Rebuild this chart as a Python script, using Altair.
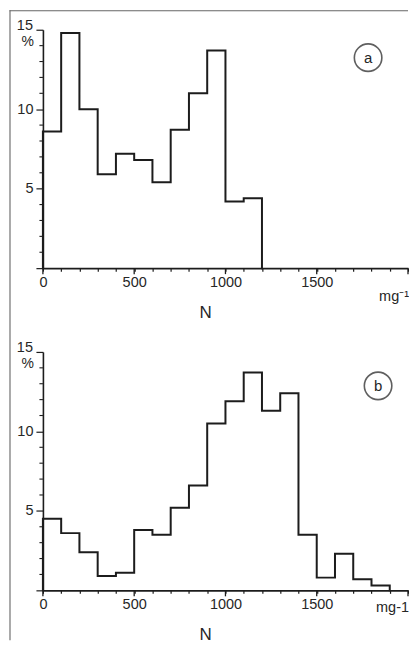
import altair as alt
import pandas as pd

# ---- data ----
bin_width = 100
x_max = 2000
y_max = 15
top_values = [8.6, 14.8, 10.0, 5.9, 7.2, 6.8, 5.4, 8.7, 11.0, 13.7, 4.2, 4.4]
bottom_values = [4.5, 3.6, 2.4, 0.9, 1.1, 3.8, 3.5, 5.2, 6.6, 10.5, 11.9, 13.7,
                 11.3, 12.4, 3.5, 0.8, 2.3, 0.7, 0.3]
x_tick_values = list(range(0, 2001, 100))
x_major_ticks = [0, 500, 1000, 1500, 2000]
y_axis_values = [0, 5, 10, 15]
y_minor_ticks = [1, 2, 3, 4, 6, 7, 8, 9, 11, 12, 13, 14]

W, H = 366, 239
INK = "#1c1c1c"
TXT = "#262626"
FONT = "Liberation Sans"
FS = 14.5


def step_frame(values):
    rows = [{"i": 0, "x": 0, "y": 0}]
    for k, v in enumerate(values):
        x0 = k * bin_width
        rows.append({"i": len(rows), "x": x0, "y": v})
        rows.append({"i": len(rows), "x": x0 + bin_width, "y": v})
    rows.append({"i": len(rows), "x": len(values) * bin_width, "y": 0})
    return pd.DataFrame(rows)


xenc = alt.X(
    "x:Q",
    scale=alt.Scale(domain=[0, x_max], nice=False, zero=False),
    axis=alt.Axis(
        values=x_tick_values, format="d", title=None, grid=False,
        labelExpr="datum.value % 500 == 0 && datum.value < 2000 ? datum.label : ''",
        labelOverlap=False, labelFlush=False, labelBound=False,
        tickSize=3, tickWidth=1.2, tickColor=INK,
        domainColor=INK, domainWidth=1.6,
        labelFont=FONT, labelFontSize=FS, labelColor=TXT, labelPadding=4,
    ),
)
yenc = alt.Y(
    "y:Q",
    scale=alt.Scale(domain=[0, y_max], nice=False),
    axis=alt.Axis(
        values=y_axis_values, title=None, grid=False,
        labelExpr="datum.value == 5 || datum.value == 10 ? datum.label : ''",
        labelOverlap=False, labelFlush=False, labelBound=False,
        tickSize=7, tickWidth=1.2, tickColor=INK,
        domainColor=INK, domainWidth=1.6,
        labelFont=FONT, labelFontSize=FS, labelColor=TXT, labelPadding=3,
    ),
)

one = pd.DataFrame({"a": [0]})


def text_layer(txt, x, y, align="center", size=FS):
    return alt.Chart(one).mark_text(
        text=txt, font=FONT, fontSize=size, color=TXT, align=align, baseline="middle"
    ).encode(x=alt.value(x), y=alt.value(y))


def panel(values, letter, unit_text, unit_dy, cx, cy, frame=False):
    line = alt.Chart(step_frame(values)).mark_line(
        color=INK, strokeWidth=2, strokeJoin="miter", strokeCap="square"
    ).encode(x=xenc, y=yenc, order=alt.Order("i:Q"))

    yminor = alt.Chart(pd.DataFrame({"y": y_minor_ticks})).mark_rule(
        color=INK, strokeWidth=1.1
    ).encode(y=yenc, x=alt.value(-3.5), x2=alt.value(0))

    xmajor = alt.Chart(pd.DataFrame({"x": x_major_ticks})).mark_rule(
        color=INK, strokeWidth=1.3
    ).encode(x=xenc, y=alt.value(H), y2=alt.value(H + 6))

    circle = alt.Chart(one).mark_point(
        shape="circle", size=760, filled=False, color=INK, strokeWidth=1.6
    ).encode(x=alt.value(cx), y=alt.value(cy))

    layers = [
        line, yminor, xmajor, circle,
        text_layer(letter, cx, cy + 0.5, size=15),
        text_layer("15", -10, -4, align="right"),
        text_layer("%", -9, 12, align="right", size=14),
        text_layer("N", 163, H + 45, size=17),
        text_layer(unit_text, W + 1, H + unit_dy, align="right"),
    ]
    if frame:
        # scanned page frame: left edge and top edge
        layers.append(
            alt.Chart(one).mark_rect(color="#555").encode(
                x=alt.value(-33.5), x2=alt.value(-32.5),
                y=alt.value(-19.5), y2=alt.value(2 * H + 84 + 50)
            )
        )
        layers.append(
            alt.Chart(one).mark_rect(color="#666").encode(
                x=alt.value(-33.5), x2=alt.value(W),
                y=alt.value(-19.5), y2=alt.value(-18.5)
            )
        )
    return alt.layer(*layers).properties(width=W, height=H)


top = panel(top_values, "a", "mg\u207b\u00b9", 29, 326, 28, frame=True)
bottom = panel(bottom_values, "b", "mg-1", 18, 336, 34)

chart = alt.vconcat(top, bottom, spacing=84, bounds="flush").properties(
    padding={"left": 1, "top": 1, "right": 0, "bottom": 0}
).configure_view(stroke=None)

chart.save("out.html", embed_options={"renderer": "svg", "actions": False})
